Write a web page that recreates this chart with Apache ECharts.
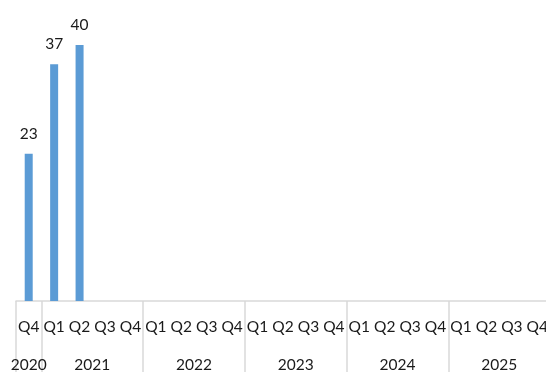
<!DOCTYPE html>
<html>
<head>
<meta charset="utf-8">
<script src="https://cdn.jsdelivr.net/npm/echarts@6/dist/echarts.min.js"></script>
<style>
  html, body { margin: 0; padding: 0; background: #fff; }
  #chart { width: 546px; height: 372px; }
</style>
</head>
<body>
<div id="chart"></div>
<script>
// Quarterly timeline, Q4 2020 through Q4 2025
const quarters = ['Q4',
  'Q1', 'Q2', 'Q3', 'Q4',
  'Q1', 'Q2', 'Q3', 'Q4',
  'Q1', 'Q2', 'Q3', 'Q4',
  'Q1', 'Q2', 'Q3', 'Q4',
  'Q1', 'Q2', 'Q3', 'Q4'];
const values = [23, 37, 40, null, null,
  null, null, null, null,
  null, null, null, null,
  null, null, null, null,
  null, null, null, null];
const years = ['2020', '2021', '2022', '2023', '2024', '2025'];
// number of quarters shown for each year
const quartersPerYear = [1, 4, 4, 4, 4, 4];

// indexes where a new year starts (drawn as long separator ticks)
const yearStarts = [];
let acc = 0;
quartersPerYear.forEach(n => { yearStarts.push(acc); acc += n; });
yearStarts.push(acc);

// half-step positions (boundaryGap false) used to centre year labels under their group
const halfSteps = [];
for (let i = 0; i <= quarters.length * 2; i++) halfSteps.push('');
acc = 0;
years.forEach((y, i) => {
  const centre = acc * 2 + quartersPerYear[i];
  halfSteps[centre] = y;
  acc += quartersPerYear[i];
});

const font = 'Lato, "Open Sans", sans-serif';
const chart = echarts.init(document.getElementById('chart'));
chart.setOption({
  animation: false,
  grid: { left: 16, top: 13, width: 534, height: 288, outerBoundsMode: 'none', containLabel: false },
  xAxis: [
    {
      type: 'category',
      data: quarters,
      position: 'bottom',
      axisLine: { lineStyle: { color: '#d9d9d9', width: 1.5 } },
      axisTick: {
        show: true,
        length: 72,
        interval: (idx) => yearStarts.includes(idx),
        lineStyle: { color: '#d9d9d9', width: 1.5 }
      },
      axisLabel: {
        interval: 0,
        margin: 18,
        color: '#1a1a1a',
        fontSize: 15.5,
        fontFamily: font
      }
    },
    {
      type: 'category',
      data: halfSteps,
      boundaryGap: false,
      position: 'bottom',
      axisLine: { show: false },
      axisTick: { show: false },
      axisLabel: {
        interval: 0,
        margin: 56,
        color: '#1a1a1a',
        fontSize: 15.5,
        fontFamily: font
      }
    }
  ],
  yAxis: {
    type: 'value',
    min: 0,
    max: 45,
    show: false,
    splitLine: { show: false }
  },
  series: [{
    type: 'bar',
    xAxisIndex: 0,
    data: values,
    barWidth: 8,
    itemStyle: { color: '#5b9bd5' },
    label: {
      show: true,
      position: 'top',
      distance: 12,
      color: '#1a1a1a',
      fontSize: 15.5,
      fontFamily: font
    }
  }]
});
</script>
</body>
</html>
